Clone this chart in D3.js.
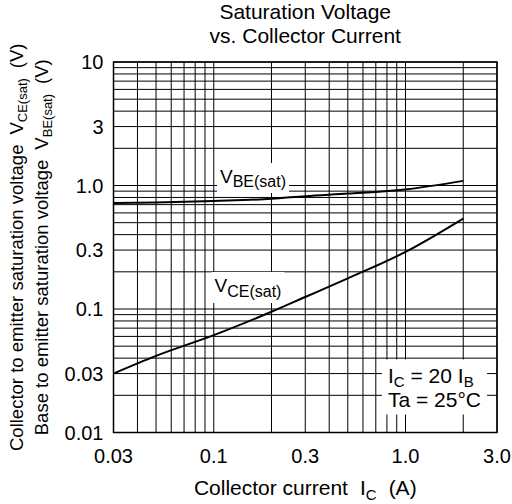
<!DOCTYPE html>
<html>
<head>
<meta charset="utf-8">
<script src="https://cdn.jsdelivr.net/npm/d3@7"></script>
<style>
  body { margin: 0; background: #fff; }
  svg { display: block; font-family: "Liberation Sans", Arial, Helvetica, sans-serif; }
</style>
</head>
<body>
<svg id="chart" width="512" height="504"></svg>
<script>
// values
const current = [0.03, 0.05, 0.1, 0.2, 0.3, 0.5, 1.0, 2.0];
const vbeSat = [0.72, 0.73, 0.75, 0.78, 0.82, 0.86, 0.93, 1.09];
const vceSat = [0.030, 0.0417, 0.0614, 0.095, 0.125, 0.177, 0.29, 0.54];

const xTicks = [0.03, 0.1, 0.3, 1.0, 3.0];
const xTickLabels = ['0.03', '0.1', '0.3', '1.0', '3.0'];
const yTicks = [0.01, 0.03, 0.1, 0.3, 1.0, 3, 10];
const yTickLabels = ['0.01', '0.03', '0.1', '0.3', '1.0', '3', '10'];

const svg = d3.select('#chart');

const plotL = 113.5, plotR = 497, plotT = 62, plotB = 432.5;

const x = d3.scaleLog().domain([0.03, 3]).range([plotL, plotR]);
const y = d3.scaleLog().domain([0.01, 10]).range([plotB, plotT]);

// grid
const grid = svg.append('g').attr('stroke', '#000').attr('stroke-width', 1);
grid.selectAll('.vx')
  .data(x.ticks())
  .join('line')
  .attr('x1', d => x(d)).attr('x2', d => x(d))
  .attr('y1', plotT).attr('y2', plotB);
grid.selectAll('.hy')
  .data(y.ticks())
  .join('line')
  .attr('y1', d => y(d)).attr('y2', d => y(d))
  .attr('x1', plotL).attr('x2', plotR);

svg.append('rect')
  .attr('x', plotL).attr('y', plotT)
  .attr('width', plotR - plotL).attr('height', plotB - plotT)
  .attr('fill', 'none').attr('stroke', '#000').attr('stroke-width', 1.5);

// labels with white backing boxes
function boxedLabel(g, pad) {
  const b = g.node().getBBox();
  g.insert('rect', ':first-child')
    .attr('x', b.x - pad[0]).attr('y', b.y - pad[1])
    .attr('width', b.width + pad[0] * 2).attr('height', b.height + pad[1] * 2)
    .attr('fill', '#fff');
}

const vbeLab = svg.append('g');
const vbeText = vbeLab.append('text').attr('x', 220).attr('y', 183).attr('font-size', 19);
vbeText.append('tspan').text('V');
vbeText.append('tspan').attr('dy', 4).attr('font-size', 16).text('BE(sat)');
boxedLabel(vbeLab, [3, 3]);

const vceLab = svg.append('g');
const vceText = vceLab.append('text').attr('x', 214.5).attr('y', 292).attr('font-size', 19);
vceText.append('tspan').text('V');
vceText.append('tspan').attr('dy', 5).attr('font-size', 16).text('CE(sat)');
boxedLabel(vceLab, [3, 3]);

const condLab = svg.append('g');
const c1 = condLab.append('text').attr('x', 388).attr('y', 382.5).attr('font-size', 21);
c1.append('tspan').text('I');
c1.append('tspan').attr('dy', 4).attr('font-size', 15).text('C');
c1.append('tspan').attr('dy', -4).text(' = 20 I');
c1.append('tspan').attr('dy', 4).attr('font-size', 15).text('B');
condLab.append('text').attr('x', 388).attr('y', 406.5).attr('font-size', 21).text('Ta = 25°C');
boxedLabel(condLab, [6, 4]);

// curves
const line = d3.line()
  .x(d => x(d[0]))
  .y(d => y(d[1]))
  .curve(d3.curveMonotoneX);

svg.append('path')
  .datum(d3.zip(current, vbeSat))
  .attr('d', line)
  .attr('fill', 'none').attr('stroke', '#000').attr('stroke-width', 2);
svg.append('path')
  .datum(d3.zip(current, vceSat))
  .attr('d', line)
  .attr('fill', 'none').attr('stroke', '#000').attr('stroke-width', 2);

// tick labels
svg.append('g').selectAll('text')
  .data(xTicks)
  .join('text')
  .attr('x', d => x(d)).attr('y', plotB + 30.5)
  .attr('text-anchor', 'middle').attr('font-size', 20)
  .text((d, i) => xTickLabels[i]);

svg.append('g').selectAll('text')
  .data(yTicks)
  .join('text')
  .attr('x', plotL - 10).attr('y', d => y(d))
  .attr('dy', '0.36em')
  .attr('text-anchor', 'end').attr('font-size', 20)
  .text((d, i) => yTickLabels[i]);

// title
const cx = (plotL + plotR) / 2;
svg.append('text').attr('x', cx).attr('y', 18.5)
  .attr('text-anchor', 'middle').attr('font-size', 21).text('Saturation Voltage');
svg.append('text').attr('x', cx).attr('y', 42.5)
  .attr('text-anchor', 'middle').attr('font-size', 21).text('vs. Collector Current');

// x axis title
const xt = svg.append('text').attr('x', cx).attr('y', 495)
  .attr('text-anchor', 'middle').attr('font-size', 21);
xt.append('tspan').text('Collector current');
xt.append('tspan').attr('dx', 12).text('I');
xt.append('tspan').attr('dy', 5).attr('font-size', 15).text('C');
xt.append('tspan').attr('dx', 12).attr('dy', -5).text('(A)');

// y axis title, two rotated lines
function yTitle(px, main, sub) {
  const t = svg.append('text')
    .attr('transform', `translate(${px},${(plotT + plotB) / 2}) rotate(-90)`)
    .attr('text-anchor', 'middle').attr('font-size', 18.5);
  t.append('tspan').text(main);
  t.append('tspan').attr('dx', 10).text('V');
  t.append('tspan').attr('dy', 4).attr('font-size', 13).text(sub);
  t.append('tspan').attr('dx', 10).attr('dy', -4).text('(V)');
}
yTitle(23, 'Collector to emitter saturation voltage', 'CE(sat)');
yTitle(48, 'Base to emitter saturation voltage', 'BE(sat)');
</script>
</body>
</html>
